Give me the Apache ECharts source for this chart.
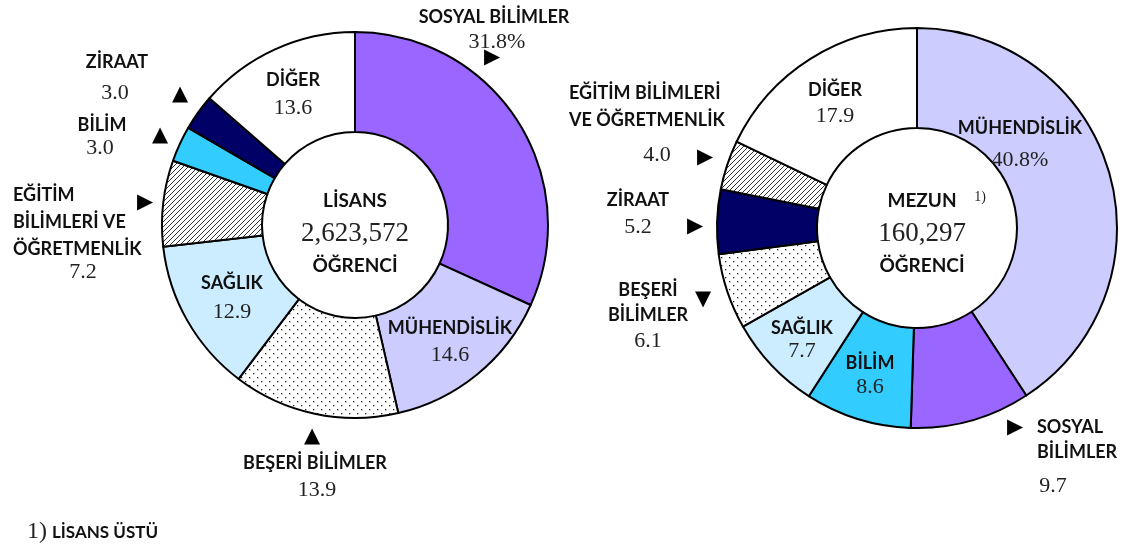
<!DOCTYPE html>
<html>
<head>
<meta charset="utf-8">
<script src="https://cdn.jsdelivr.net/npm/echarts@6/dist/echarts.min.js"></script>
<style>
  html, body { margin: 0; padding: 0; background: #fff; }
  #main { width: 1125px; height: 551px; }
</style>
</head>
<body>
<div id="main"></div>
<script>
// veriler
var lisansNames = ['SOSYAL BİLİMLER', 'MÜHENDİSLİK', 'BEŞERİ BİLİMLER', 'SAĞLIK', 'EĞİTİM\nBİLİMLERİ VE\nÖĞRETMENLİK', 'BİLİM', 'ZİRAAT', 'DİĞER'];
var lisansValues = [31.8, 14.6, 13.9, 12.9, 7.2, 3.0, 3.0, 13.6];
var mezunNames = ['MÜHENDİSLİK', 'SOSYAL\nBİLİMLER', 'BİLİM', 'SAĞLIK', 'BEŞERİ\nBİLİMLER', 'ZİRAAT', 'EĞİTİM BİLİMLERİ\nVE ÖĞRETMENLİK', 'DİĞER'];
var mezunValues = [40.8, 9.7, 8.6, 7.7, 6.1, 5.2, 4.0, 17.9];
var centerTitles = ['LİSANS', 'MEZUN'];
var centerTotals = ['2,623,572', '160,297'];
var centerUnit = 'ÖĞRENCİ';
var footnote = 'LİSANS ÜSTÜ';

var BOLD = 'bold 18px Lato';
var SERIF = '22px "Liberation Serif"';

// desenler
function makePattern(kind) {
  var c = document.createElement('canvas');
  var ctx = c.getContext('2d');
  if (kind === 'dots') {
    c.width = 8; c.height = 8;
    ctx.fillStyle = '#fff'; ctx.fillRect(0, 0, 8, 8);
    ctx.fillStyle = '#222';
    ctx.fillRect(1, 1, 1.3, 1.3);
    ctx.fillRect(5, 5, 1.3, 1.3);
  } else {
    c.width = 5; c.height = 5;
    ctx.fillStyle = '#fff'; ctx.fillRect(0, 0, 5, 5);
    ctx.strokeStyle = '#333'; ctx.lineWidth = 1;
    ctx.beginPath();
    ctx.moveTo(-1, 6); ctx.lineTo(6, -1);
    ctx.moveTo(-1, 1); ctx.lineTo(1, -1);
    ctx.moveTo(4, 6); ctx.lineTo(6, 4);
    ctx.stroke();
  }
  return { image: c, repeat: 'repeat' };
}
var dots = makePattern('dots');
var hatch = makePattern('hatch');

var colorsByName = {
  'SOSYAL': '#9966FF', 'MÜHENDİSLİK': '#CCCCFF', 'BEŞERİ': dots, 'SAĞLIK': '#CCECFF',
  'EĞİTİM': hatch, 'BİLİM': '#33CCFF', 'ZİRAAT': '#000066', 'DİĞER': '#FFFFFF'
};
function colorOf(name) { return colorsByName[name.split(/[\s\n]/)[0]]; }

// etiket yerleri: [isim x, isim y, hizalama, satır aralığı, değer x, değer y]
var lisansLayout = [
  [494, 17, 'center', 0, 497, 42],
  [450, 328, 'center', 0, 450, 355],
  [315, 463, 'center', 0, 317, 490],
  [232, 283, 'center', 0, 232, 312],
  [13, 222, 'left', 27, 83, 272],
  [102, 125, 'center', 0, 100, 148],
  [117, 62, 'center', 0, 115, 93],
  [293, 80, 'center', 0, 293, 108]
];
var mezunLayout = [
  [1020, 128, 'center', 0, 1020, 160],
  [1037, 440, 'left', 25, 1053, 486],
  [870, 363, 'center', 0, 870, 387],
  [802, 328, 'center', 0, 802, 351],
  [648, 303, 'center', 25, 648, 341],
  [638, 200, 'center', 0, 638, 227],
  [569, 107, 'left', 27, 657, 155],
  [835, 90, 'center', 0, 835, 116]
];
// oklar: [x, y, karakter]
var arrows = [
  [492, 58, '▶'], [180, 95, '▲'], [160, 136, '▲'], [145, 203, '▶'], [312, 437, '▲'],
  [705, 158, '▶'], [695, 227, '▶'], [703, 300, '▼'], [1015, 428, '▶']
];

function pieData(names, values) {
  return names.map(function (n, i) {
    return { name: n, value: values[i], itemStyle: { color: colorOf(n) } };
  });
}

function labelTexts(names, values, layout) {
  var out = [];
  names.forEach(function (n, i) {
    var L = layout[i];
    out.push({
      type: 'text', x: L[0], y: L[1], z: 100,
      style: { text: n, font: BOLD, fill: '#111', align: L[2], verticalAlign: 'middle', lineHeight: L[3] || 22 }
    });
    out.push({
      type: 'text', x: L[4], y: L[5], z: 100,
      style: { text: values[i].toFixed(1) + (i === 0 ? '%' : ''), font: SERIF, fill: '#222', align: 'center', verticalAlign: 'middle' }
    });
  });
  return out;
}

function centerTexts(cx, i) {
  return [
    { type: 'text', x: cx, y: 201, z: 100, style: { text: centerTitles[i], font: 'bold 19px Lato', fill: '#111', align: 'center', verticalAlign: 'middle' } },
    { type: 'text', x: cx, y: 234, z: 100, style: { text: centerTotals[i], font: '27px "Liberation Serif"', fill: '#222', align: 'center', verticalAlign: 'middle' } },
    { type: 'text', x: cx, y: 266, z: 100, style: { text: centerUnit, font: 'bold 19px Lato', fill: '#111', align: 'center', verticalAlign: 'middle' } }
  ];
}

var graphics = []
  .concat(labelTexts(lisansNames, lisansValues, lisansLayout))
  .concat(labelTexts(mezunNames, mezunValues, mezunLayout))
  .concat(centerTexts(355, 0))
  .concat(centerTexts(922, 1));

graphics.push({ type: 'text', x: 980, y: 197, z: 100, style: { text: '1)', font: '14px "Liberation Serif"', fill: '#222', align: 'center', verticalAlign: 'middle' } });
graphics.push({ type: 'text', x: 27, y: 532, z: 100, style: { text: '1)', font: '24px "Liberation Serif"', fill: '#222', align: 'left', verticalAlign: 'middle' } });
graphics.push({ type: 'text', x: 52, y: 533, z: 100, style: { text: footnote, font: 'bold 17px Lato', fill: '#111', align: 'left', verticalAlign: 'middle' } });
arrows.forEach(function (a) {
  graphics.push({ type: 'text', x: a[0], y: a[1], z: 100, style: { text: a[2], font: '21px "DejaVu Sans"', fill: '#000', align: 'center', verticalAlign: 'middle' } });
});

var chart = echarts.init(document.getElementById('main'), null, { renderer: 'canvas' });
var pieBase = {
  type: 'pie',
  z: 1,
  startAngle: 90,
  clockwise: true,
  avoidLabelOverlap: false,
  silent: true,
  label: { show: false },
  labelLine: { show: false },
  itemStyle: { borderColor: '#000', borderWidth: 2 }
};
chart.setOption({
  animation: false,
  backgroundColor: '#fff',
  series: [
    Object.assign({}, pieBase, { center: [355, 225], radius: [93, 193], data: pieData(lisansNames, lisansValues) }),
    Object.assign({}, pieBase, { center: [917, 228], radius: [100, 200], data: pieData(mezunNames, mezunValues) })
  ],
  graphic: graphics
});
</script>
</body>
</html>
